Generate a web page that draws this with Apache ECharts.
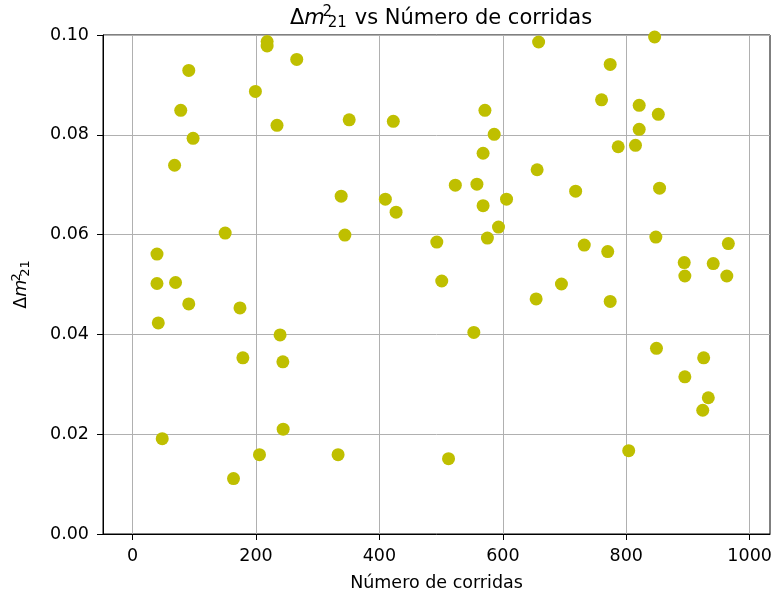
<!DOCTYPE html>
<html>
<head>
<meta charset="utf-8">
<script src="https://cdn.jsdelivr.net/npm/echarts@6/dist/echarts.min.js"></script>
<style>html,body{margin:0;padding:0;background:#fff}#c{width:773px;height:596px}</style>
</head>
<body>
<div id="c"></div>
<script>
var runs = [91,218,218,266,199,78,234,98,68,338,150,39.5,39.5,69.6,91,174,41.6,239,178.7,243.5,48,163.5,205.6,244,333,658,351,422.5,571,586,568,655.6,523,558,409.6,427,568,606,718,344,493,575,593,501,654,695,553,512,846,774,760,821,852,821,787,815,854,848,732,770,965.5,894,941,895,963,774,849,925.5,895,933,924,804];
var dm21 = [0.0929,0.0987,0.0978,0.0951,0.0887,0.0849,0.0819,0.0793,0.0739,0.0677,0.0603,0.0561,0.0502,0.0504,0.0461,0.0453,0.0423,0.0399,0.0353,0.0345,0.0191,0.0111,0.0159,0.0210,0.0159,0.0986,0.0830,0.0827,0.0849,0.0801,0.0763,0.0730,0.0699,0.0701,0.0671,0.0645,0.0658,0.0671,0.0687,0.0599,0.0585,0.0593,0.0615,0.0507,0.0471,0.0501,0.0404,0.0151,0.0996,0.0941,0.0870,0.0859,0.0841,0.0811,0.0776,0.0779,0.0693,0.0595,0.0579,0.0566,0.0582,0.0544,0.0542,0.0517,0.0517,0.0466,0.0372,0.0353,0.0315,0.0273,0.0248,0.0167];
var xTicks = [0,200,400,600,800,1000];
var yTicks = [0,0.02,0.04,0.06,0.08,0.10];

var pts = runs.map(function(v,i){return [v, dm21[i]];});
var F = 'DejaVu Sans';
var chart = echarts.init(document.getElementById('c'), null, {renderer:'canvas'});
var richMath = function(sz, gap){
  var sm = Math.round(sz*0.72);
  return {
    d:{fontFamily:F,fontSize:sz,fontWeight:'normal',color:'#000'},
    m:{fontFamily:F,fontSize:sz,fontStyle:'italic',fontWeight:'normal',color:'#000',padding:[0,2,0,0]},
    sup:{fontFamily:F,fontSize:sm,fontWeight:'normal',color:'#000',padding:[0,0,Math.round(sz*0.55),0],width:1},
    sub:{fontFamily:F,fontSize:sm,fontWeight:'normal',color:'#000',padding:[Math.round(sz*0.45),gap,0,0]},
    t:{fontFamily:F,fontSize:sz,fontWeight:'normal',color:'#000'}
  };
};
chart.setOption({
  animation:false,
  title:{
    text:'{d|Δ}{m|m}{sup|2}{sub|21}{t|vs Número de corridas}',
    left:436, top:0, textAlign:'center',
    textStyle:{fontWeight:'normal',rich:richMath(21, 8)}
  },
  grid:{left:103,right:3,top:35,bottom:62,show:true,borderColor:'#000',borderWidth:1,backgroundColor:'transparent',containLabel:false,outerBoundsMode:'none'},
  xAxis:{
    type:'value', min:-48, max:1033,
    name:'Número de corridas', nameLocation:'middle', nameGap:40,
    nameTextStyle:{fontFamily:F,fontSize:17.5,color:'#000'},
    axisLine:{show:true,onZero:false,lineStyle:{color:'#000',width:1}},
    axisTick:{show:true,length:6,inside:false,lineStyle:{color:'#000'},customValues:xTicks},
    axisLabel:{fontFamily:F,fontSize:17.5,color:'#000',margin:13,customValues:xTicks,formatter:function(v){return String(v);}},
    splitLine:{show:true,lineStyle:{color:'#b0b0b0',width:1}}
  },
  yAxis:{
    type:'value', min:0, max:0.1, interval:0.02,
    name:'{d|Δ}{m|m}{sup|2}{sub|21}', nameLocation:'middle', nameGap:70, nameRotate:90,
    nameTextStyle:{rich:richMath(17.5, 0)},
    axisLine:{show:true,onZero:false,lineStyle:{color:'#000',width:1}},
    axisTick:{show:true,length:6,lineStyle:{color:'#000'}},
    axisLabel:{fontFamily:F,fontSize:17.5,color:'#000',margin:14,formatter:function(v){return v.toFixed(2);}},
    splitLine:{show:true,lineStyle:{color:'#b0b0b0',width:1}}
  },
  series:[{
    type:'scatter', data:pts, symbol:'circle', symbolSize:13,
    itemStyle:{color:'#bfbf00',opacity:1}, clip:true
  }]
});
</script>
</body>
</html>
